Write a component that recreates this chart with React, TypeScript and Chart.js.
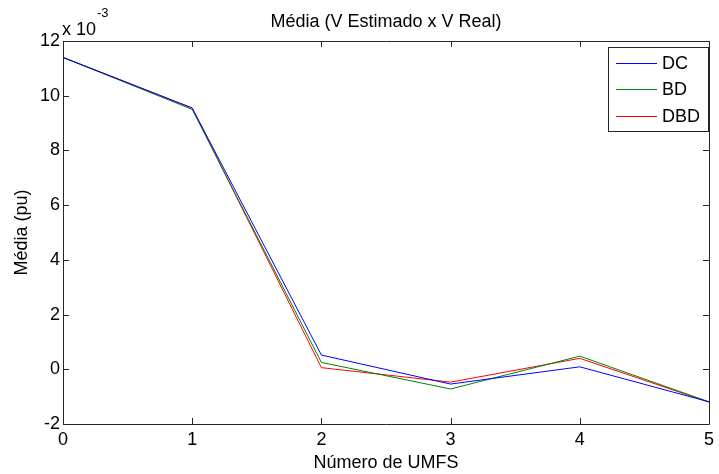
import React, { useEffect, useRef } from "react";
import { Chart, registerables } from "chart.js";

Chart.register(...registerables);

// Values in units of 10^-3 pu
const umfs = [0, 1, 2, 3, 4, 5];
const dcValues = [11.4, 9.55, 0.52, -0.54, 0.09, -1.19];
const bdValues = [11.4, 9.5, 0.25, -0.72, 0.48, -1.19];
const dbdValues = [11.4, 9.55, 0.06, -0.47, 0.4, -1.2];
const yTicks = [-2, 0, 2, 4, 6, 8, 10, 12];
const xTicks = [0, 1, 2, 3, 4, 5];
const seriesNames = ["DC", "BD", "DBD"];
const seriesColors = ["#0000ff", "#008000", "#ff0000"];

const titleText = "Média (V Estimado x V Real)";
const xTitle = "Número de UMFS";
const yTitle = "Média (pu)";

const FONT = "Liberation Sans, Arial, Helvetica, sans-serif";
const AXIS_COLOR = "#262626";

const overlayPlugin = {
  id: "matlabOverlay",
  afterDraw(chart: any) {
    const { ctx, chartArea } = chart;
    const { left, right, top, bottom } = chartArea;
    const xs = chart.scales.x;
    const ys = chart.scales.y;
    ctx.save();
    // box
    ctx.strokeStyle = AXIS_COLOR;
    ctx.lineWidth = 1;
    ctx.beginPath();
    ctx.rect(Math.round(left) + 0.5, Math.round(top) + 0.5, Math.round(right - left), Math.round(bottom - top));
    ctx.stroke();
    // inward ticks
    const tl = 6;
    ctx.beginPath();
    xTicks.forEach((v) => {
      const px = Math.round(xs.getPixelForValue(v)) + 0.5;
      ctx.moveTo(px, bottom);
      ctx.lineTo(px, bottom - tl);
      ctx.moveTo(px, top);
      ctx.lineTo(px, top + tl);
    });
    yTicks.forEach((v) => {
      const py = Math.round(ys.getPixelForValue(v)) + 0.5;
      ctx.moveTo(left, py);
      ctx.lineTo(left + tl, py);
      ctx.moveTo(right, py);
      ctx.lineTo(right - tl, py);
    });
    ctx.stroke();

    ctx.fillStyle = "#000";
    // title
    ctx.font = `18px ${FONT}`;
    ctx.textAlign = "center";
    ctx.textBaseline = "alphabetic";
    ctx.fillText(titleText, (left + right) / 2, 27);
    // x title
    ctx.fillText(xTitle, (left + right) / 2, 468);
    // y title
    ctx.save();
    ctx.translate(27, (top + bottom) / 2);
    ctx.rotate(-Math.PI / 2);
    ctx.fillText(yTitle, 0, 0);
    ctx.restore();
    // exponent
    ctx.textAlign = "left";
    ctx.font = `18px ${FONT}`;
    ctx.fillText("x 10", left - 1, 35);
    const w = ctx.measureText("x 10").width;
    ctx.font = `13px ${FONT}`;
    ctx.fillText("-3", left - 1 + w + 1, 17);

    // legend
    const lx = 608, ly = 47, lw = 100, lh = 84;
    ctx.fillStyle = "#ffffff";
    ctx.fillRect(lx, ly, lw, lh);
    ctx.strokeStyle = AXIS_COLOR;
    ctx.lineWidth = 1;
    ctx.strokeRect(lx + 0.5, ly + 0.5, lw, lh);
    ctx.font = `18px ${FONT}`;
    ctx.textBaseline = "middle";
    seriesNames.forEach((name, i) => {
      const y = Math.round(ly + 15.5 + i * 26.5);
      ctx.fillStyle = seriesColors[i];
      ctx.fillRect(616, y, 41, 1);
      ctx.fillStyle = "#000";
      ctx.fillText(name, 662, y + 1);
    });
    ctx.restore();
  },
};

export default function App() {
  const canvasRef = useRef<HTMLCanvasElement | null>(null);

  useEffect(() => {
    document.body.style.margin = "0";
    const canvas = canvasRef.current;
    if (!canvas) return;
    const makeData = (vals: number[]) => umfs.map((x, i) => ({ x, y: vals[i] }));
    const allSeries = [dcValues, bdValues, dbdValues];
    const chart = new Chart(canvas, {
      type: "line",
      data: {
        datasets: allSeries.map((vals, i) => ({
          label: seriesNames[i],
          data: makeData(vals),
          borderColor: seriesColors[i],
          backgroundColor: seriesColors[i],
          borderWidth: 1,
          pointRadius: 0,
          tension: 0,
          fill: false,
        })),
      },
      options: {
        animation: false,
        responsive: false,
        devicePixelRatio: 1,
        layout: { padding: { top: 41, right: 6, left: 0, bottom: 0 } },
        plugins: {
          legend: { display: false },
          title: { display: false },
          tooltip: { enabled: false },
        },
        scales: {
          x: {
            type: "linear",
            min: 0,
            max: 5,
            afterBuildTicks: (scale: any) => {
              scale.ticks = xTicks.map((v) => ({ value: v }));
            },
            afterFit: (scale: any) => {
              scale.height = 50;
            },
            grid: { display: false, drawTicks: false },
            border: { display: false },
            ticks: {
              padding: 5,
              color: "#000",
              font: { family: FONT, size: 18 },
              maxRotation: 0,
              autoSkip: false,
            },
          },
          y: {
            type: "linear",
            min: -2,
            max: 12,
            afterBuildTicks: (scale: any) => {
              scale.ticks = yTicks.map((v) => ({ value: v }));
            },
            afterFit: (scale: any) => {
              scale.width = 63;
            },
            grid: { display: false, drawTicks: false },
            border: { display: false },
            ticks: {
              padding: 3,
              color: "#000",
              font: { family: FONT, size: 18 },
              autoSkip: false,
            },
          },
        },
      },
      plugins: [overlayPlugin],
    });
    return () => chart.destroy();
  }, []);

  return <canvas ref={canvasRef} width={719} height={474} style={{ display: "block" }} />;
}
